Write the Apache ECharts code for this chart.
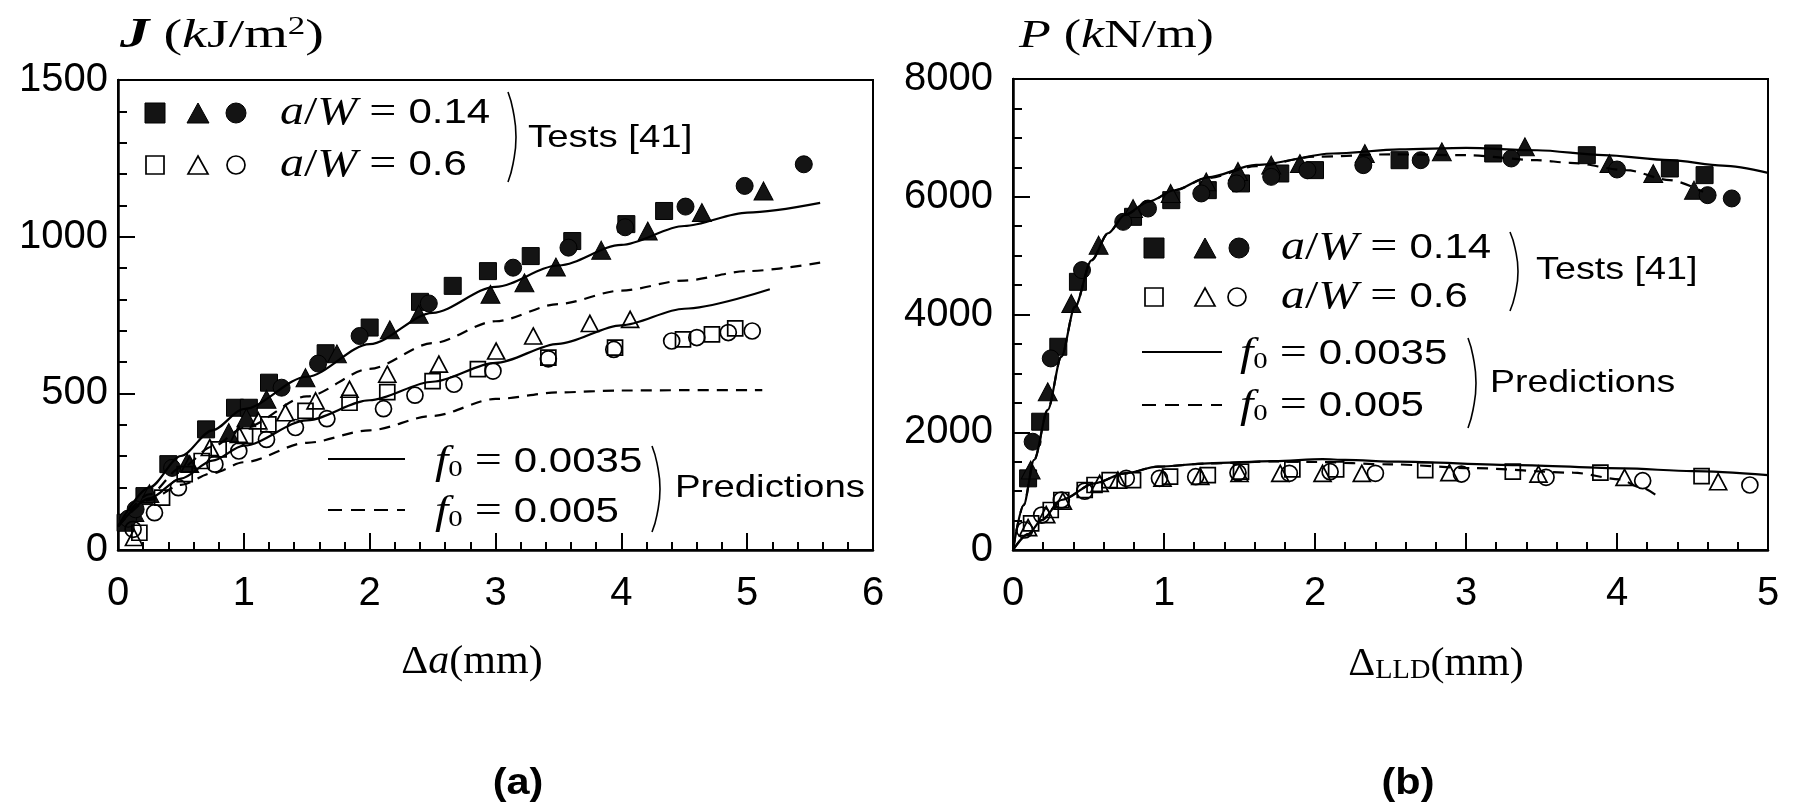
<!DOCTYPE html>
<html><head><meta charset="utf-8">
<script src="https://cdn.jsdelivr.net/npm/echarts@6/dist/echarts.min.js"></script>
<style>html,body{margin:0;padding:0;background:#fff}#c{width:1795px;height:807px}</style>
</head><body><div id="c"></div>
<script>
// ---------- Panel (a): J vs crack extension ----------
const aXTicks = [0, 1, 2, 3, 4, 5, 6];
const aYTicks = [0, 500, 1000, 1500];
const aFilledSq = [[0.06,87],[0.21,172],[0.40,274],[0.70,385],[0.93,454],[1.04,454],[1.20,534],[1.65,628],[2.00,710],[2.40,792],[2.66,843],[2.94,890],[3.28,938],[3.61,986],[4.04,1040],[4.34,1082]];
const aFilledTri = [[0.13,120],[0.25,180],[0.55,279],[0.88,375],[1.02,422],[1.18,481],[1.49,550],[1.74,626],[2.16,703],[2.39,752],[2.96,816],[3.23,853],[3.48,903],[3.84,957],[4.21,1018],[4.64,1077],[5.13,1146]];
const aFilledCir = [[0.08,100],[0.14,130],[0.43,262],[1.30,518],[1.59,595],[1.92,683],[2.47,787],[3.14,901],[3.58,965],[4.03,1030],[4.51,1096],[4.98,1162],[5.45,1231]];
const aOpenSq = [[0.17,55],[0.35,167],[0.53,242],[0.665,284],[0.80,321],[1.01,364],[1.195,401],[1.49,444],[1.84,470],[2.14,504],[2.50,539],[2.86,577],[3.42,614],[3.95,646],[4.49,672],[4.72,688],[4.905,707]];
const aOpenTri = [[0.127,40],[0.57,274],[0.73,327],[0.96,369],[1.115,412],[1.33,438],[1.57,476],[1.84,513],[2.14,561],[2.55,593],[3.005,635],[3.30,683],[3.75,723],[4.07,736]];
const aOpenCir = [[0.12,66],[0.29,119],[0.48,199],[0.77,274],[0.96,316],[1.18,353],[1.41,391],[1.66,419],[2.11,451],[2.36,494],[2.67,529],[2.98,571],[3.42,610],[3.94,640],[4.40,667],[4.60,678],[4.85,694],[5.04,699]];
const aSolidHi = [[0,75],[0.25,200],[0.5,300],[0.75,382],[1.0,450],[1.5,553],[2.0,657],[2.5,757],[3.0,840],[3.5,908],[4.0,974],[4.5,1034],[5.0,1077],[5.58,1108]];
const aDashHi = [[0,75],[0.25,178],[0.5,262],[0.75,330],[1.0,390],[1.5,490],[2.0,578],[2.5,660],[3.0,730],[3.5,785],[4.0,828],[4.5,860],[5.0,890],[5.58,917]];
const aSolidLo = [[0,75],[0.25,165],[0.5,228],[0.75,285],[1.0,333],[1.5,414],[2.0,478],[2.5,537],[3.0,597],[3.5,658],[4.0,717],[4.5,770],[5.18,832]];
const aDashLo = [[0,75],[0.25,160],[0.5,208],[0.75,245],[1.0,280],[1.5,342],[2.0,382],[2.5,428],[3.0,482],[3.5,503],[4.0,509],[4.5,510],[5.12,510]];

// ---------- Panel (b): load vs load-line displacement ----------
const bXTicks = [0, 1, 2, 3, 4, 5];
const bYTicks = [0, 2000, 4000, 6000, 8000];
const bFilledSq = [[0.10,1217],[0.18,2179],[0.30,3452],[0.43,4555],[0.795,5659],[1.048,5942],[1.29,6112],[1.51,6226],[1.77,6395],[2.0,6452],[2.56,6621],[3.18,6735],[3.80,6706],[4.35,6480],[4.58,6367]];
const bFilledTri = [[0.117,1358],[0.23,2688],[0.386,4188],[0.567,5178],[0.795,5800],[1.044,6056],[1.28,6253],[1.49,6430],[1.71,6537],[1.90,6565],[2.33,6735],[2.84,6763],[3.39,6848],[3.95,6565],[4.24,6395],[4.51,6112]];
const bFilledCir = [[0.13,1839],[0.25,3254],[0.457,4754],[0.73,5574],[0.894,5800],[1.247,6056],[1.48,6226],[1.71,6338],[1.95,6450],[2.32,6537],[2.70,6621],[3.30,6650],[4.0,6463],[4.60,6027],[4.76,5971]];
const bOpenSq = [[0.12,453],[0.25,679],[0.32,849],[0.475,1019],[0.54,1104],[0.64,1188],[0.795,1188],[1.04,1245],[1.29,1273],[1.51,1330],[1.85,1370],[2.14,1370],[2.73,1358],[3.31,1330],[3.89,1313],[4.56,1256]];
const bOpenTri = [[0.10,380],[0.22,600],[0.33,830],[0.574,1132],[0.695,1188],[0.99,1220],[1.24,1250],[1.50,1300],[1.77,1302],[2.05,1302],[2.31,1302],[2.89,1313],[3.48,1290],[4.05,1234],[4.67,1160]];
const bOpenCir = [[0.077,340],[0.19,594],[0.32,849],[0.475,1000],[0.75,1217],[0.97,1217],[1.21,1245],[1.49,1313],[1.83,1302],[2.10,1330],[2.40,1302],[2.97,1290],[3.53,1234],[4.17,1177],[4.88,1104]];
const bSolidHi = [[0,0],[0.07,760],[0.14,1530],[0.23,2380],[0.32,3280],[0.41,4130],[0.52,4920],[0.63,5380],[0.74,5690],[0.9,5920],[1.07,6110],[1.29,6330],[1.61,6540],[2.12,6735],[2.56,6803],[3.0,6830],[3.47,6790],[3.91,6706],[4.35,6621],[4.7,6530],[5.0,6406]];
const bDashHi = [[0,0],[0.07,760],[0.14,1530],[0.23,2380],[0.32,3280],[0.41,4130],[0.52,4920],[0.63,5380],[0.74,5690],[0.9,5920],[1.07,6110],[1.29,6320],[1.61,6520],[2.0,6680],[2.5,6720],[3.0,6706],[3.47,6621],[3.69,6577],[4.06,6452],[4.35,6282],[4.57,6084]];
const bSolidLo = [[0,0],[0.1,270],[0.19,509],[0.32,849],[0.54,1132],[0.74,1302],[0.96,1415],[1.29,1472],[1.73,1510],[2.05,1545],[2.2,1530],[2.55,1500],[3.34,1443],[4.04,1387],[4.5,1340],[5.0,1273]];
const bDashLo = [[0,0],[0.1,270],[0.19,509],[0.32,849],[0.54,1132],[0.74,1302],[0.96,1415],[1.29,1470],[1.73,1505],[2.0,1495],[2.5,1455],[3.05,1390],[3.71,1313],[4.02,1200],[4.15,1070],[4.28,894]];

// ---------- styling helpers ----------
const SANS = 'Liberation Sans';
const SERIF = 'Liberation Serif';
const INK = '#000';
const FILL = '#141414';

function axisCommon(margin) {
  return {
    type: 'value',
    axisLine: { show: true, lineStyle: { color: INK, width: 2.5 } },
    axisTick: { show: true, inside: true, length: 17, lineStyle: { color: INK, width: 2 } },
    axisLabel: { color: INK, fontFamily: SANS, fontSize: 40, margin: margin, formatter: function (v) { return String(v); } },
    splitLine: { show: false },
    minorSplitLine: { show: false }
  };
}
function mkX(grid, ticks) {
  return Object.assign(axisCommon(24), {
    gridIndex: grid, min: ticks[0], max: ticks[ticks.length - 1], interval: ticks[1] - ticks[0],
    minorTick: { show: true, splitNumber: 5, length: 8, lineStyle: { color: INK, width: 2 } }
  });
}
function mkY(grid, ticks, split, margin) {
  return Object.assign(axisCommon(margin), {
    gridIndex: grid, min: ticks[0], max: ticks[ticks.length - 1], interval: ticks[1] - ticks[0],
    minorTick: { show: true, splitNumber: split, length: 9, lineStyle: { color: INK, width: 2 } }
  });
}
function scat(name, xi, data, shape, filled, size) {
  return {
    name, type: 'scatter', xAxisIndex: xi, yAxisIndex: xi, data, symbol: shape, symbolSize: size,
    itemStyle: filled ? { color: FILL, borderColor: INK, borderWidth: 1, opacity: 1 }
                      : { color: 'rgba(255,255,255,0)', borderColor: INK, borderWidth: 1.7, opacity: 1 },
    z: 3, silent: true
  };
}
function curve(name, xi, data, dashed) {
  return {
    name, type: 'line', xAxisIndex: xi, yAxisIndex: xi, data, showSymbol: false, symbol: 'none',
    smooth: 0.3, smoothMonotone: 'x',
    lineStyle: { color: INK, width: 2.2, type: dashed ? [11, 8] : 'solid' },
    z: 4, silent: true
  };
}

// rich text styles
const rich = {
  i:  { fontFamily: SERIF, fontStyle: 'italic', fontSize: 40, fill: INK },
  r:  { fontFamily: SERIF, fontSize: 40, fill: INK },
  s:  { fontFamily: SANS, fontSize: 35, fill: INK },
  sub:{ fontFamily: SERIF, fontSize: 24, fill: INK, verticalAlign: 'bottom' },
  t:  { fontFamily: SANS, fontSize: 32, fill: INK },
  ti: { fontFamily: SERIF, fontStyle: 'italic', fontSize: 40, fill: INK },
  tbi:{ fontFamily: SERIF, fontStyle: 'italic', fontWeight: 'bold', fontSize: 42, fill: INK },
  tr: { fontFamily: SERIF, fontSize: 40, fill: INK },
  sup:{ fontFamily: SERIF, fontSize: 25, fill: INK, verticalAlign: 'top' },
  lld:{ fontFamily: SERIF, fontSize: 27, fill: INK, verticalAlign: 'bottom' },
  b:  { fontFamily: SANS, fontSize: 36, fontWeight: 'bold', fill: INK }
};
function T(x, y, text, sx, align) {
  return { type: 'text', x: x, y: y, scaleX: sx || 1, z: 10,
    style: { text: text, rich: rich, fill: INK, align: align || 'left', verticalAlign: 'middle',
             textAlign: align || 'left', textVerticalAlign: 'middle' } };
}
function brace(x, y0, y1) {
  const m = (y0 + y1) / 2, h = y1 - y0;
  return { type: 'polyline', z: 10, shape: { points: [[x, y0], [x + 5, y0 + h * 0.2], [x + 8, m], [x + 5, y1 - h * 0.2], [x, y1]], smooth: 0.5 },
           style: { stroke: INK, lineWidth: 1.6, fill: null } };
}
function sq(cx, cy, s, filled) {
  return { type: 'rect', z: 10, shape: { x: cx - s / 2, y: cy - s / 2, width: s, height: s },
           style: filled ? { fill: FILL, stroke: INK, lineWidth: 1 } : { fill: '#fff', stroke: INK, lineWidth: 1.7 } };
}
function tri(cx, cy, w, h, filled) {
  return { type: 'polygon', z: 10, shape: { points: [[cx, cy - h / 2], [cx + w / 2, cy + h / 2], [cx - w / 2, cy + h / 2]] },
           style: filled ? { fill: FILL, stroke: INK, lineWidth: 1 } : { fill: '#fff', stroke: INK, lineWidth: 1.7 } };
}
function cir(cx, cy, r, filled) {
  return { type: 'circle', z: 10, shape: { cx: cx, cy: cy, r: r },
           style: filled ? { fill: FILL, stroke: INK, lineWidth: 1 } : { fill: '#fff', stroke: INK, lineWidth: 1.7 } };
}
function seg(x0, x1, y, dashed) {
  return { type: 'line', z: 10, shape: { x1: x0, y1: y, x2: x1, y2: y },
           style: { stroke: INK, lineWidth: 2, lineDash: dashed ? [14, 9] : null } };
}

const LS = 1.2;
const legendA = [
  sq(155, 113, 20, true), tri(198, 113, 22, 20, true), cir(236, 113, 10, true),
  sq(155, 165, 18, false), tri(198, 165, 20, 18, false), cir(236, 165, 9, false),
  T(280, 113, '{i|a}{r|/}{i|W}{r| = }{s|0.14}', LS),
  T(280, 165, '{i|a}{r|/}{i|W}{r| = }{s|0.6}', LS),
  brace(508, 92, 182),
  T(528, 138, '{t|Tests [41]}', 1.2),
  seg(328, 405, 459, false), seg(328, 405, 510, true),
  T(435, 462, '{i|f}{sub|0}{r| = }{s|0.0035}', LS),
  T(435, 512, '{i|f}{sub|0}{r| = }{s|0.005}', LS),
  brace(652, 446, 532),
  T(675, 488, '{t|Predictions}', 1.2)
];
const legendB = [
  sq(1154, 248, 20, true), tri(1205, 248, 22, 20, true), cir(1239, 248, 10, true),
  sq(1154, 297, 18, false), tri(1205, 297, 20, 18, false), cir(1237, 297, 9, false),
  T(1281, 248, '{i|a}{r|/}{i|W}{r| = }{s|0.14}', LS),
  T(1281, 297, '{i|a}{r|/}{i|W}{r| = }{s|0.6}', LS),
  brace(1510, 232, 311),
  T(1536, 270, '{t|Tests [41]}', 1.18),
  seg(1142, 1222, 352, false), seg(1142, 1222, 405, true),
  T(1240, 354, '{i|f}{sub|0}{r| = }{s|0.0035}', LS),
  T(1240, 406, '{i|f}{sub|0}{r| = }{s|0.005}', LS),
  brace(1468, 338, 428),
  T(1490, 383, '{t|Predictions}', 1.17)
];
const titles = [
  T(120, 36, '{tbi|J}{tr| (}{ti|k}{tr|J/m}{sup|2}{tr|)}', 1.4),
  T(1019, 36, '{ti|P}{tr| (}{ti|k}{tr|N/m)}', 1.3),
  T(472, 662, '{r|Δ}{i|a}{r|(mm)}', 1.05, 'center'),
  T(1436, 664, '{r|Δ}{lld|LLD}{r|(mm)}', 1.05, 'center'),
  T(518, 784, '{b|(a)}', 1.15, 'center'),
  T(1408, 784, '{b|(b)}', 1.15, 'center')
];

const chart = echarts.init(document.getElementById('c'), null, { renderer: 'canvas' });
chart.setOption({
  backgroundColor: '#fff',
  animation: false,
  grid: [
    { left: 118, top: 80, width: 755, height: 470, show: true, borderColor: INK, borderWidth: 2, backgroundColor: 'rgba(0,0,0,0)', outerBoundsMode: 'none' },
    { left: 1013, top: 79, width: 755, height: 471, show: true, borderColor: INK, borderWidth: 2, backgroundColor: 'rgba(0,0,0,0)', outerBoundsMode: 'none' }
  ],
  xAxis: [mkX(0, aXTicks), mkX(1, bXTicks)],
  yAxis: [mkY(0, aYTicks, 5, 10), mkY(1, bYTicks, 4, 20)],
  series: [
    curve('f0=0.0035 a/W=0.14', 0, aSolidHi, false),
    curve('f0=0.005 a/W=0.14', 0, aDashHi, true),
    curve('f0=0.0035 a/W=0.6', 0, aSolidLo, false),
    curve('f0=0.005 a/W=0.6', 0, aDashLo, true),
    scat('a/W=0.14 sq', 0, aFilledSq, 'rect', true, 17),
    scat('a/W=0.14 tri', 0, aFilledTri, 'triangle', true, [19, 18]),
    scat('a/W=0.14 cir', 0, aFilledCir, 'circle', true, 17),
    scat('a/W=0.6 sq', 0, aOpenSq, 'rect', false, 15),
    scat('a/W=0.6 tri', 0, aOpenTri, 'triangle', false, [17, 16]),
    scat('a/W=0.6 cir', 0, aOpenCir, 'circle', false, 16),
    curve('b f0=0.0035 a/W=0.14', 1, bSolidHi, false),
    curve('b f0=0.005 a/W=0.14', 1, bDashHi, true),
    curve('b f0=0.0035 a/W=0.6', 1, bSolidLo, false),
    curve('b f0=0.005 a/W=0.6', 1, bDashLo, true),
    scat('b a/W=0.14 sq', 1, bFilledSq, 'rect', true, 17),
    scat('b a/W=0.14 tri', 1, bFilledTri, 'triangle', true, [19, 18]),
    scat('b a/W=0.14 cir', 1, bFilledCir, 'circle', true, 17),
    scat('b a/W=0.6 sq', 1, bOpenSq, 'rect', false, 15),
    scat('b a/W=0.6 tri', 1, bOpenTri, 'triangle', false, [17, 16]),
    scat('b a/W=0.6 cir', 1, bOpenCir, 'circle', false, 16)
  ],
  graphic: legendA.concat(legendB, titles)
});
</script></body></html>
